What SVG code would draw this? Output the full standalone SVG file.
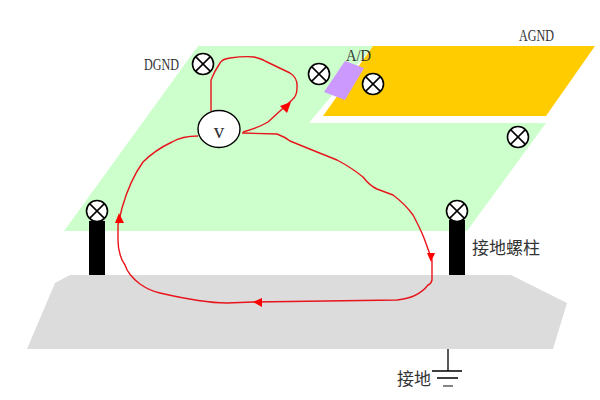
<svg xmlns="http://www.w3.org/2000/svg" width="600" height="400" viewBox="0 0 600 400">
<style>
.x{fill:#fff;stroke:#000;stroke-width:1.6}
.x path{fill:none;stroke:#000;stroke-width:1.5}
.w{fill:none;stroke:#e8141c;stroke-width:1.4;stroke-linejoin:round}
.a{fill:#f00;stroke:none}
.s{font-family:"Liberation Serif",serif;font-size:16.5px;fill:#333}
.c{font-family:"Noto Sans CJK SC","Liberation Serif",sans-serif;font-size:17px;fill:#333}
.g{stroke:#000;stroke-width:1.3;fill:none}
</style>
<defs>
<g id="sym" class="x"><circle r="10.5"/><path d="M-7.4-7.4 7.4 7.4M-7.4 7.4 7.4-7.4"/></g>
</defs>
<g id="ground-plate"><polygon points="70,275 511,275 567,303 553,349 27,349 55,283" fill="#dcdcdc"/></g>
<g id="digital-plane"><polygon points="198,46 373,46 309,123 546,123 467,231 64,231" fill="#ccffcc"/></g>
<g id="analog-plane"><polygon points="373,46 595,46 546,116 323,116" fill="#ffcc00"/></g>
<g id="ad"><polygon points="345,61 364,68 345,100 324,92" fill="#cc99ff"/><text class="s" x="346" y="61" textLength="25" lengthAdjust="spacingAndGlyphs">A/D</text></g>
<g id="post-left"><rect x="89" y="221" width="16" height="54" fill="#000"/><use href="#sym" x="97" y="211"/></g>
<g id="post-right"><rect x="449" y="220" width="16" height="55" fill="#000"/><use href="#sym" x="457" y="211"/></g>
<g id="sym-dgnd"><use href="#sym" x="203" y="64"/></g>
<g id="sym-mid"><use href="#sym" x="319" y="74"/></g>
<g id="sym-agnd"><use href="#sym" x="373" y="84"/></g>
<g id="sym-right"><use href="#sym" x="518" y="137"/></g>
<g id="connectors">
<path class="w" d="M211 111 211 80Q214 72 220 63 222 59 230 58 245 56 254 57 262 59 265 61L290 73Q298 78 297 88 297 96 292 100L268 122Q258 128 243 132"/>
<polygon class="a" points="291,102 280,106 287,113"/>
<path class="w" d="M242 133 277 134Q285 137 290 141L317 152 337 160Q352 168 363 177 370 186 377 189L393 195Q405 204 413 215 420 228 424 238L432 260 432 280Q431 284 428 285 418 298 397 300L253 302 227 303Q203 303 160 293 150 291 140 284 128 275 125 265 118 255 118 240L118 225 122 208Q130 180 143 162 155 150 172 142 182 136 198 136"/>
<polygon class="a" points="431,262 427,253 435,253"/>
<polygon class="a" points="253,302 262,298 262,307"/>
<polygon class="a" points="119,213 115,223 124,223"/>
</g>
<g id="meter"><ellipse cx="219" cy="129" rx="21" ry="18.5" fill="#fff" stroke="#000" stroke-width="1.4"/><text x="219" y="138" text-anchor="middle" style="font-family:'Liberation Serif',serif;font-size:21px;fill:#333">v</text></g>
<g id="earth"><path class="g" d="M448 349V371M432 371H462M437 378H458"/><path d="M443 386H453" stroke="#666" stroke-width="1.6"/></g>
<g id="labels">
<text class="s" x="144" y="70" textLength="35" lengthAdjust="spacingAndGlyphs">DGND</text>
<text class="s" x="519" y="41" textLength="35" lengthAdjust="spacingAndGlyphs">AGND</text>
<text class="c" x="472" y="254">接地螺柱</text>
<text class="c" x="397" y="385">接地</text>
</g>
</svg>
